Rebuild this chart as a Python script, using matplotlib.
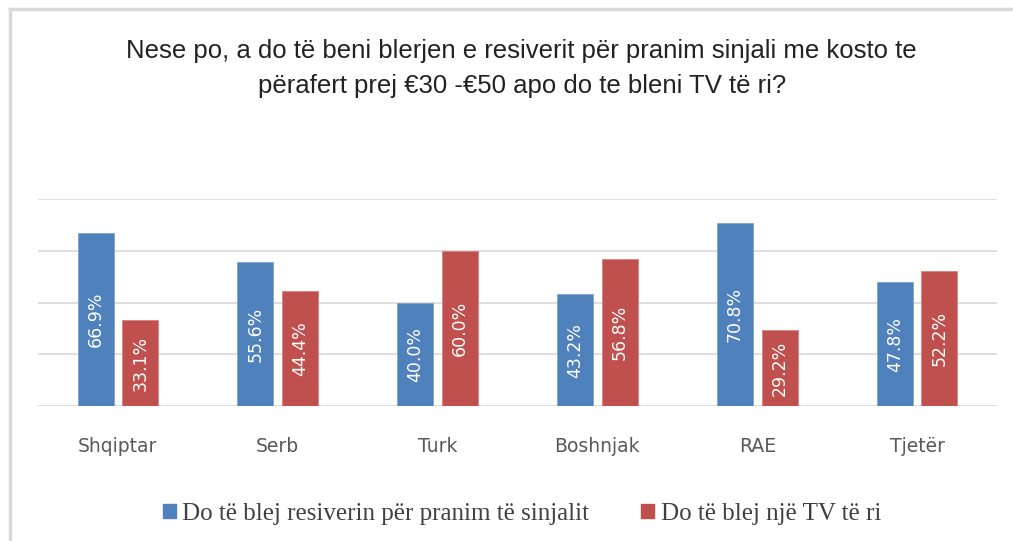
import matplotlib
matplotlib.use("Agg")
import matplotlib.pyplot as plt
from matplotlib.lines import Line2D
import numpy as np

# ── data ──────────────────────────────────────────────────────────────────────
categories = ["Shqiptar", "Serb", "Turk", "Boshnjak", "RAE", "Tjetër"]
receiver = [66.9, 55.6, 40.0, 43.2, 70.8, 47.8]
new_tv = [33.1, 44.4, 60.0, 56.8, 29.2, 52.2]
series_names = ["Do të blej resiverin për pranim të sinjalit",
                "Do të blej një TV të ri"]
title = ("Nese po, a do të beni blerjen e resiverit për pranim sinjali me kosto te\n"
         "përafert prej €30 -€50 apo do te bleni TV të ri?")

BLUE = "#4F81BD"
RED = "#C0504D"
GRID = "#D9D9D9"

fig = plt.figure(figsize=(10.13, 5.41), dpi=100)
ax = fig.add_axes([0.0375, 0.2495, 0.9467, 0.3826])

x = np.arange(len(categories))
w = 0.225
off = 0.14
b1 = ax.bar(x - off, receiver, w, color=BLUE, edgecolor="#7FA3D1", linewidth=0.6, zorder=3)
b2 = ax.bar(x + off, new_tv, w, color=RED, edgecolor="#D9807E", linewidth=0.6, zorder=3)

for bars, vals in [(b1, receiver), (b2, new_tv)]:
    for bar, v in zip(bars, vals):
        ax.text(bar.get_x() + bar.get_width() / 2, v / 2, f"{v:.1f}%",
                rotation=90, ha="center", va="center", color="white",
                fontsize=12.5, zorder=4)

ax.set_xlim(-0.5, len(categories) - 0.5)
ax.set_ylim(0, 80)
ax.set_yticks([0, 20, 40, 60, 80])
ax.yaxis.grid(True, color=GRID, linewidth=1.2, zorder=0)
ax.tick_params(axis="y", left=False, labelleft=False)
ax.tick_params(axis="x", bottom=False, pad=19)
ax.set_xticks(x)
ax.set_xticklabels(categories, fontsize=13.5, color="#595959")
for s in ax.spines.values():
    s.set_visible(False)

fig.text(0.515, 0.873, title, ha="center", va="center", fontsize=18.5,
         family=["Liberation Sans", "DejaVu Sans"],
         linespacing=1.6, color="#222222")

handles = [plt.Rectangle((0, 0), 1, 1, color=BLUE), plt.Rectangle((0, 0), 1, 1, color=RED)]
fig.legend(handles, series_names, loc="center", bbox_to_anchor=(0.515, 0.050),
           ncol=2, frameon=False, handlelength=0.52, handleheight=0.52,
           handletextpad=0.25, columnspacing=2.1, labelcolor="#404040",
           prop={"family": ["Liberation Serif", "DejaVu Serif"], "size": 18})

# outer chart border (top and left)
fig.add_artist(Line2D([0.0095, 1.0], [0.984, 0.984], color=GRID, linewidth=2.5,
                      transform=fig.transFigure))
fig.add_artist(Line2D([0.0095, 0.0095], [0.0, 0.984], color=GRID, linewidth=2.5,
                      transform=fig.transFigure))

fig.savefig("out.png", dpi=100)
